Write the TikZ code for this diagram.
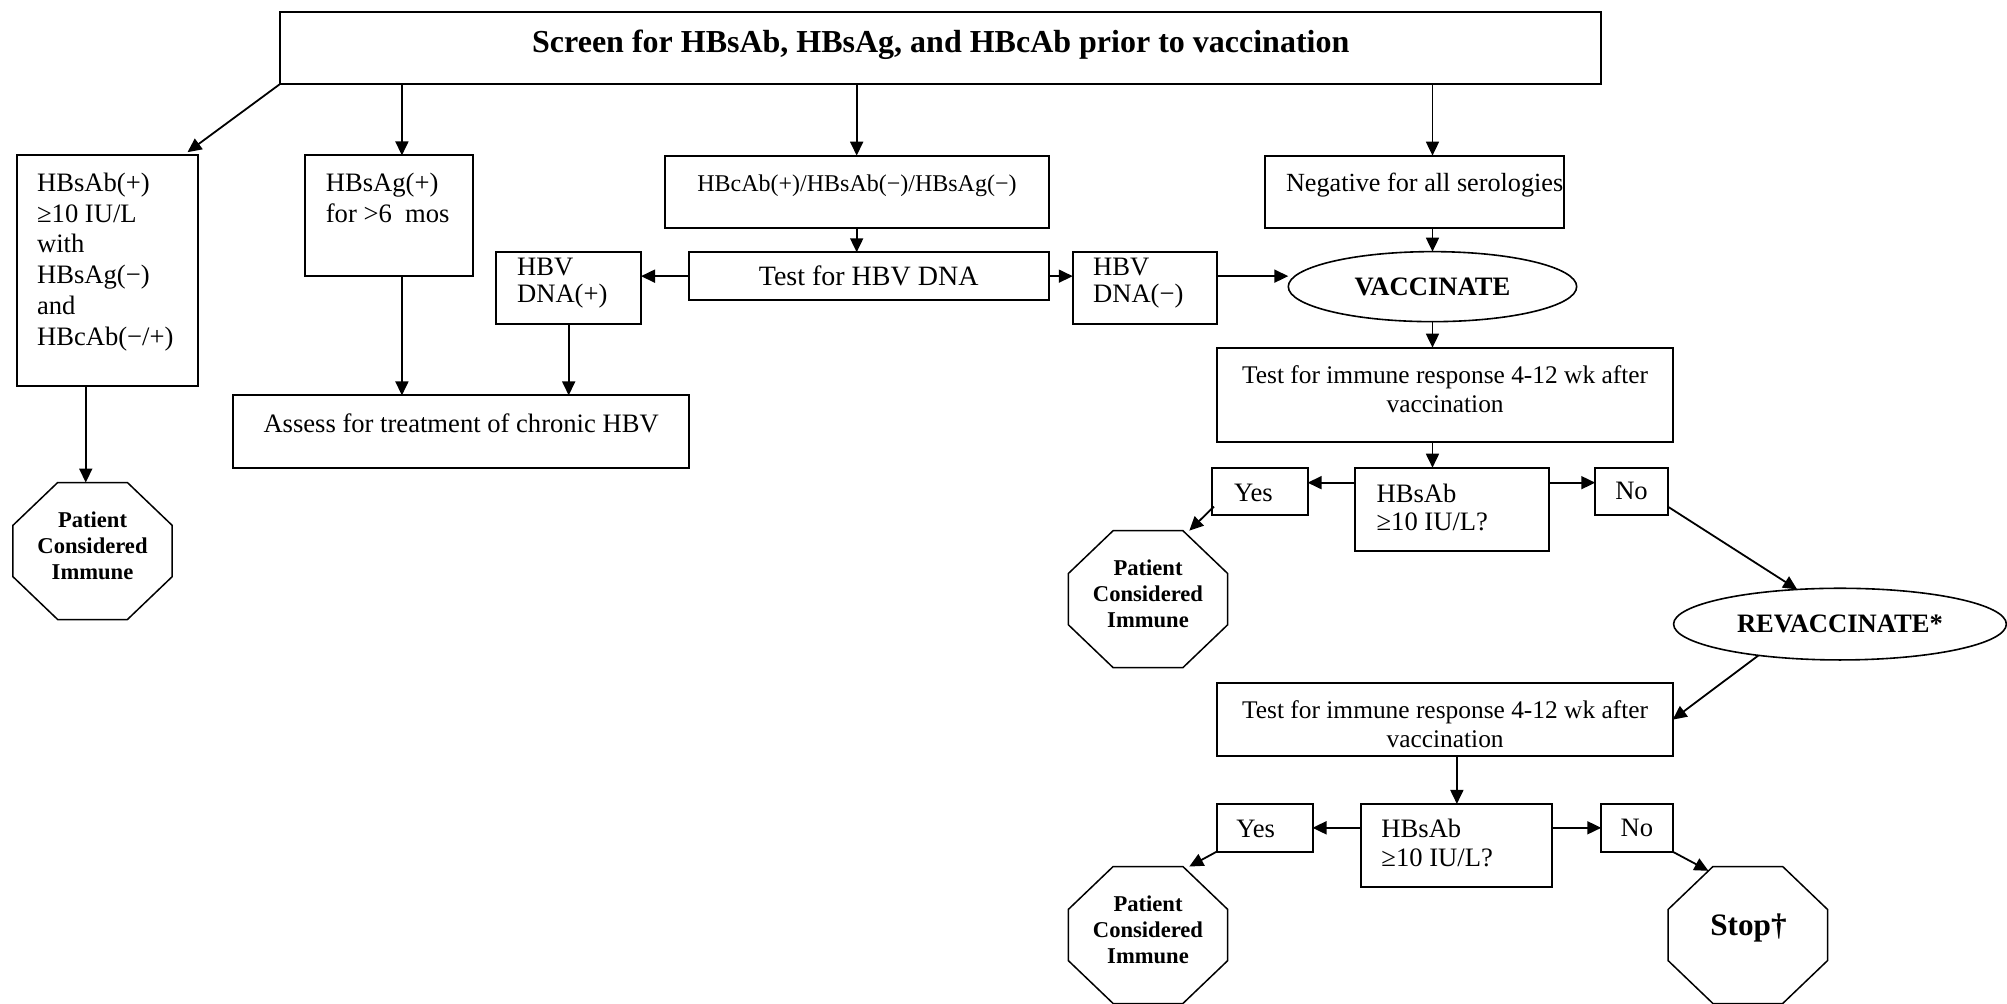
\documentclass[tikz,border=0pt]{standalone}
\usepackage{fontspec}
\setmainfont{Liberation Serif}
\usetikzlibrary{arrows.meta,calc,shapes.geometric}
\newcommand\fs[2]{\fontsize{#1}{#2}\selectfont}
\tikzset{
 box/.style={draw, line width=1pt, inner sep=0pt, outer sep=0pt, anchor=north west, font=\fs{13.3}{15.5}},
 ell/.style={draw, ellipse, line width=0.8pt, inner sep=0pt, outer sep=0pt, font=\fs{13.3}{15}\bfseries},
 txt/.style={inner sep=0pt, outer sep=0pt, font=\fs{13.3}{15.4}},
 arr/.style={-{Triangle[length=7pt,width=6.5pt]}, line width=0.9pt},
 octl/.style={line width=0.75pt, line join=miter},
 octt/.style={inner sep=0pt, outer sep=0pt, align=center, font=\fs{11.3}{12.9}\bfseries},
}
\newcommand\bx[5]{\node[box, minimum width={(#4-#2)*0.64pt}, minimum height={(#5-#3)*0.64pt}] (#1) at (#2,#3) {};}
\newcommand\octa[3]{%
 \node[inner sep=0pt, outer sep=0pt, minimum width={124.5*0.64pt}, minimum height={107*0.64pt}] (#1) at (#2,#3) {};
 \coordinate (#1-tl) at ($(#1.north west)+(35,0)$);
 \coordinate (#1-tr) at ($(#1.north east)+(-35,0)$);
 \coordinate (#1-rt) at ($(#1.north east)+(0,33.5)$);
 \coordinate (#1-rb) at ($(#1.south east)+(0,-33.5)$);
 \coordinate (#1-br) at ($(#1.south east)+(-35,0)$);
 \coordinate (#1-bl) at ($(#1.south west)+(35,0)$);
 \coordinate (#1-lb) at ($(#1.south west)+(0,-33.5)$);
 \coordinate (#1-lt) at ($(#1.north west)+(0,33.5)$);
 \draw[octl] (#1-tl) -- (#1-tr) -- (#1-rt) -- (#1-rb) -- (#1-br) -- (#1-bl) -- (#1-lb) -- (#1-lt) -- cycle;}
\begin{document}
\begin{tikzpicture}[x=0.64pt,y=-0.64pt]
\useasboundingbox (0,0) rectangle (1568,784);
% top box
\bx{top}{219}{9.3}{1251}{65.5}
\node[txt, font=\fs{16}{18}\bfseries] (title) at (735,35) {Screen for HBsAb, HBsAg, and HBcAb prior to vaccination};
% column boxes
\bx{a}{13}{121.4}{154.5}{301.8}
\node[txt, anchor=north west, align=left] (at) at (29,135) {HBsAb(+)\\≥10 IU/L\\with\\HBsAg(−)\\and\\HBcAb(−/+)};
\bx{b}{238.2}{121.4}{369.4}{215.3}
\node[txt, anchor=north west, align=left] (bt) at (254.6,135) {HBsAg(+)\\for >6\ \ mos};
\bx{c}{519.3}{121.6}{819.3}{177.9}
\node[txt, font=\fs{12}{14}] (ct) at (669.5,145) {HBcAb(+)/HBsAb(−)/HBsAg(−)};
\bx{d}{988.3}{121.6}{1222}{177.9}
\node[txt, font=\fs{13.1}{15}] (dt) at (1113,144.5) {Negative for all serologies};
% HBV DNA row
\node[box, anchor=center, minimum width={281.3*0.64pt}, minimum height={37.3*0.64pt}, font=\fs{14}{16}] (tst) at (678.65,215.75) {Test for HBV DNA};
\bx{dp}{387.8}{196.5}{500.8}{253.3}
\node[txt, anchor=north west, align=left, font=\fs{13.3}{13.3}] (dpt) at (404,202) {HBV\\DNA(+)};
\bx{dm}{838.1}{196.6}{950.8}{252.9}
\node[txt, anchor=north west, align=left, font=\fs{13.3}{13.3}] (dmt) at (854,202) {HBV\\DNA(−)};
\node[ell, minimum width={225.3*0.64pt}, minimum height={54.7*0.64pt}] (vacc) at (1119.15,223.95) {VACCINATE};
\bx{as}{182}{308.9}{538.5}{365.5}
\node[txt] (ast) at (360.25,330.5) {Assess for treatment of chronic HBV};
\octa{o1}{72.3}{430.5}
\node[octt] (o1t) at (72.3,426.6) {Patient\\Considered\\Immune};
% first response test
\bx{t1}{950.5}{271.6}{1306.8}{345}
\node[txt, align=center, font=\fs{12.7}{14.4}] (t1t) at (1129,304) {Test for immune response 4-12 wk after\\vaccination};
\bx{h1}{1058.8}{365.4}{1210}{430.5}
\node[txt, anchor=north west, align=left, font=\fs{13.3}{14.3}] (h1t) at (1075.5,378) {HBsAb\\≥10 IU/L?};
\bx{y1}{946.7}{365.4}{1021.6}{402.3}
\node[txt] (y1t) at (979.2,385.4) {Yes};
\node[box, anchor=center, minimum width={56.7*0.64pt}, minimum height={36.9*0.64pt}] (n1) at (1274.65,383.85) {No};
\octa{o2}{896.9}{468.1}
\node[octt] (o2t) at (896.9,464) {Patient\\Considered\\Immune};
\node[ell, minimum width={260*0.64pt}, minimum height={56*0.64pt}] (rv) at (1437.5,487.6) {REVACCINATE*};
% second response test
\bx{t2}{950.5}{533.9}{1306.8}{590.6}
\node[txt, align=center, font=\fs{12.7}{14.4}] (t2t) at (1129,566) {Test for immune response 4-12 wk after\\vaccination};
\bx{h2}{1063.6}{628.1}{1212.8}{693.2}
\node[txt, anchor=north west, align=left, font=\fs{13.3}{14.3}] (h2t) at (1079.3,640.2) {HBsAb\\≥10 IU/L?};
\bx{y2}{950.5}{628.1}{1025.4}{665.4}
\node[txt] (y2t) at (981,647.5) {Yes};
\node[box, anchor=center, minimum width={55.8*0.64pt}, minimum height={37.3*0.64pt}] (n2) at (1278.9,646.75) {No};
\octa{o3}{896.9}{730.5}
\node[octt] (o3t) at (896.9,726.6) {Patient\\Considered\\Immune};
\octa{st}{1365.5}{730.5}
\node[octt, font=\fs{15.6}{18}\bfseries] (stt) at (1366,725) {Stop†};
% helper coordinates
\coordinate (xa) at (67,0);
\coordinate (xb) at (314,0);
\coordinate (yy1) at (0,377.1);
\coordinate (atip) at ($(a.north east)+(-8,-2.5)$);
% connectors
\draw[arr] (top.south west) -- (atip);
\draw[arr] (top.south -| xb) -- (b.north -| xb);
\draw[arr] (top.south -| c.north) -- (c.north);
\draw[arr] (top.south -| vacc.north) -- (d.north -| vacc.north);
\draw[arr] (d.south -| vacc.north) -- (vacc.north);
\draw[arr] (c.south) -- (c.south |- tst.north);
\draw[arr] (tst.west) -- (dp.east |- tst.west);
\draw[arr] (tst.east) -- (dm.west |- tst.east);
\draw[arr] (dm.east |- tst.east) -- (vacc.west |- tst.east);
\draw[arr] (b.south -| xb) -- (as.north -| xb);
\draw[arr] (dp.south) -- (dp.south |- as.north);
\draw[arr] (a.south -| xa) -- (o1.north -| xa);
\draw[arr] (vacc.south) -- (vacc.south |- t1.north);
\draw[arr] (t1.south -| vacc.south) -- (h1.north -| vacc.south);
\draw[arr] (h1.west |- yy1) -- (y1.east |- yy1);
\draw[arr] (h1.east |- yy1) -- (n1.west |- yy1);
\draw[arr] ($(y1.south west)+(1.7,-6.5)$) -- ($(o2-tr)+(5,0)$);
\draw[arr] ($(n1.south east)+(0,-6.5)$) -- (rv.141);
\draw[arr] (rv.201) -- (t2.east);
\draw[arr] (h2.north |- t2.south) -- (h2.north);
\draw[arr] (h2.west |- y2.east) -- (y2.east);
\draw[arr] (h2.east |- n2.west) -- (n2.west);
\draw[arr] (y2.south west) -- ($(o3-tr)+(5,0)$);
\draw[arr] (n2.south east) -- ($(st-tl)!0.1!(st-lt)$);
\end{tikzpicture}
\end{document}
